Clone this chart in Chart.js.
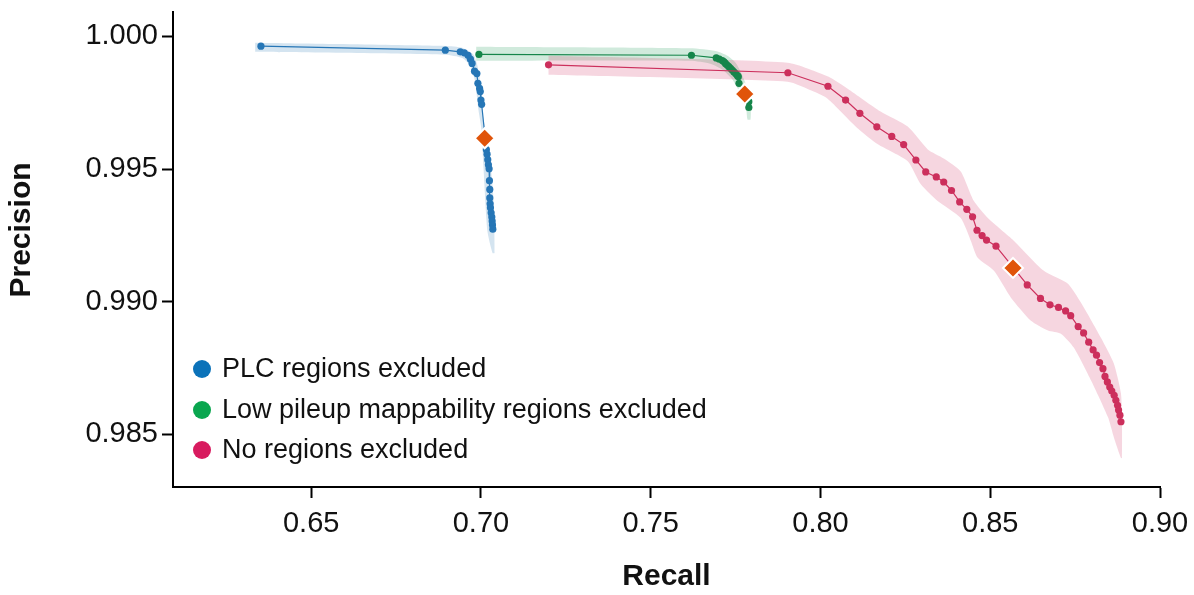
<!DOCTYPE html>
<html>
<head>
<meta charset="utf-8">
<script src="https://cdn.jsdelivr.net/npm/chart.js@4.4.1/dist/chart.umd.min.js"></script>
<style>
  body { margin: 0; background: #fff; }
  #wrap { position: relative; width: 1194px; height: 595px; }
  #legend { position: absolute; left: 193px; top: 352px; font-family: "Liberation Sans", Arial, sans-serif; font-size: 27px; color: #111; }
  #legend div { height: 40.5px; line-height: 32px; white-space: nowrap; }
  #legend span.dot { display: inline-block; width: 18px; height: 18px; border-radius: 50%; margin-right: 11px; vertical-align: -1px; }
</style>
</head>
<body>
<div id="wrap">
  <canvas id="prChart" width="1194" height="595"></canvas>
  <div id="legend"></div>
</div>
<script>
// axis ticks
const xTickValues = [0.65, 0.70, 0.75, 0.80, 0.85, 0.90];
const yTickValues = [0.985, 0.990, 0.995, 1.000];

// series names
const seriesNames = ['PLC regions excluded', 'Low pileup mappability regions excluded', 'No regions excluded'];

// PLC regions excluded
const blueRecall = [0.6352, 0.6895, 0.6939, 0.6951, 0.6962, 0.6969, 0.6974, 0.6981, 0.6988, 0.6991, 0.6996, 0.6998, 0.7000, 0.7002,
  0.7016, 0.7018, 0.7020, 0.7022, 0.7024, 0.7025, 0.7026, 0.7026, 0.7027, 0.7028, 0.7030, 0.7032, 0.7033, 0.7034, 0.7035];
const bluePrecision = [0.99963, 0.99948, 0.99942, 0.99938, 0.99929, 0.99914, 0.99898, 0.99869, 0.99860, 0.99823, 0.99804, 0.99792, 0.99760, 0.99744,
  0.99573, 0.99556, 0.99535, 0.99516, 0.99501, 0.99456, 0.99423, 0.99391, 0.99369, 0.99354, 0.99335, 0.99319, 0.99304, 0.99289, 0.99273];
const blueBandTopRecall = [0.6335, 0.6895, 0.6945, 0.6978, 0.6989, 0.6998, 0.7007, 0.7022, 0.7037, 0.7040];
const blueBandTopPrecision = [0.99976, 0.99964, 0.99957, 0.99931, 0.99893, 0.99829, 0.99690, 0.99593, 0.99390, 0.99183];
const blueBandBottomRecall = [0.6335, 0.6895, 0.6945, 0.6969, 0.6983, 0.6992, 0.7001, 0.7007, 0.7019, 0.7034];
const blueBandBottomPrecision = [0.99942, 0.99931, 0.99919, 0.99889, 0.99829, 0.99728, 0.99653, 0.99518, 0.99266, 0.99183];

// Low pileup mappability regions excluded
const greenRecall = [0.6994, 0.7620, 0.7693, 0.7702, 0.7711, 0.7716, 0.7720, 0.7725, 0.7730, 0.7735, 0.7740, 0.7745, 0.7750, 0.7755, 0.7758, 0.7760, 0.7789, 0.7789];
const greenPrecision = [0.99932, 0.99929, 0.99919, 0.99914, 0.99909, 0.99904, 0.99898, 0.99892, 0.99886, 0.99880, 0.99873, 0.99866, 0.99860, 0.99853, 0.99848, 0.99823, 0.99754, 0.99732];
const greenBandTopRecall = [0.6986, 0.7617, 0.7694, 0.7726, 0.7750, 0.7765, 0.7782, 0.7794, 0.7794];
const greenBandTopPrecision = [0.99961, 0.99955, 0.99944, 0.99927, 0.99901, 0.99867, 0.99814, 0.99754, 0.99687];
const greenBandBottomRecall = [0.6986, 0.7617, 0.7676, 0.7712, 0.7741, 0.7753, 0.7779, 0.7785];
const greenBandBottomPrecision = [0.99908, 0.99908, 0.99897, 0.99874, 0.99837, 0.99811, 0.99754, 0.99687];

// No regions excluded
const redRecall = [0.7199, 0.7904, 0.8022, 0.8074, 0.8116, 0.8166, 0.8210, 0.8245, 0.8281, 0.8310, 0.8341, 0.8363, 0.8386, 0.8410, 0.8431,
  0.8448, 0.8461, 0.8476, 0.8489, 0.8517, 0.8609, 0.8648, 0.8676, 0.8701, 0.8722, 0.8737, 0.8759, 0.8775, 0.8790, 0.8803, 0.8813,
  0.8822, 0.8832, 0.8838, 0.8845, 0.8852, 0.8858, 0.8865, 0.8870, 0.8875, 0.8878, 0.8882, 0.8885];
const redPrecision = [0.99893, 0.99863, 0.99812, 0.99760, 0.99710, 0.99659, 0.99623, 0.99592, 0.99534, 0.99489, 0.99470, 0.99451, 0.99419, 0.99376, 0.99348,
  0.99320, 0.99269, 0.99249, 0.99232, 0.99209, 0.99063, 0.99012, 0.98988, 0.98978, 0.98965, 0.98947, 0.98906, 0.98882, 0.98847, 0.98818, 0.98798,
  0.98770, 0.98747, 0.98718, 0.98697, 0.98678, 0.98663, 0.98647, 0.98628, 0.98609, 0.98591, 0.98572, 0.98547];
const redBandTopRecall = [0.7199, 0.7903, 0.8024, 0.8080, 0.8177, 0.8257, 0.8316, 0.8363, 0.8413, 0.8452, 0.8493, 0.8570, 0.8658, 0.8729,
  0.8776, 0.8826, 0.8864, 0.8885, 0.8888, 0.8888];
const redBandTopPrecision = [0.99927, 0.99901, 0.99848, 0.99803, 0.99717, 0.99660, 0.99574, 0.99540, 0.99491, 0.99379, 0.99315, 0.99229, 0.99116, 0.99067,
  0.98977, 0.98864, 0.98767, 0.98654, 0.98553, 0.98410];
const redBandBottomRecall = [0.7199, 0.7903, 0.7980, 0.8021, 0.8110, 0.8169, 0.8257, 0.8295, 0.8345, 0.8413, 0.8443, 0.8463, 0.8511, 0.8561,
  0.8620, 0.8670, 0.8708, 0.8746, 0.8797, 0.8847, 0.8864, 0.8885];
const redBandBottomPrecision = [0.99855, 0.99829, 0.99792, 0.99765, 0.99653, 0.99593, 0.99529, 0.99443, 0.99379, 0.99315, 0.99229, 0.99165, 0.99116, 0.99015,
  0.98928, 0.98891, 0.98879, 0.98827, 0.98703, 0.98564, 0.98489, 0.98410];

// operating points (diamonds)
const opRecall = [0.7011, 0.7777, 0.8567];
const opPrecision = [0.99616, 0.99783, 0.99127];

const FONT = '"Liberation Sans", Arial, Helvetica, sans-serif';
const lineColors = ['#2676b6', '#15854a', '#cc2f5c'];
const legendColors = ['#0b72b9', '#0aa64f', '#d81b5f'];
const bandColors = ['rgba(38,118,182,0.2)', 'rgba(21,150,80,0.2)', 'rgba(212,50,100,0.2)'];
const yTitleText = 'Precision';

function pairs(xs, ys) {
  return xs.map((x, i) => ({ x: x, y: ys[i] }));
}

function bandShape(topX, topY, botX, botY) {
  return pairs(topX, topY).concat(pairs(botX, botY).reverse());
}

function bandDataset(points, color) {
  return {
    data: points,
    showLine: true,
    fill: 'shape',
    backgroundColor: color,
    borderWidth: 0,
    pointRadius: 0,
    tension: 0.2,
    order: 3
  };
}

function lineDataset(label, points, color) {
  return {
    label: label,
    data: points,
    showLine: true,
    borderColor: color,
    borderWidth: 1.2,
    backgroundColor: color,
    pointBackgroundColor: color,
    pointBorderWidth: 0,
    pointRadius: 3.6,
    tension: 0,
    order: 2
  };
}

const datasets = [
  bandDataset(bandShape(redBandTopRecall, redBandTopPrecision, redBandBottomRecall, redBandBottomPrecision), bandColors[2]),
  bandDataset(bandShape(greenBandTopRecall, greenBandTopPrecision, greenBandBottomRecall, greenBandBottomPrecision), bandColors[1]),
  bandDataset(bandShape(blueBandTopRecall, blueBandTopPrecision, blueBandBottomRecall, blueBandBottomPrecision), bandColors[0]),
  lineDataset(seriesNames[2], pairs(redRecall, redPrecision), lineColors[2]),
  lineDataset(seriesNames[1], pairs(greenRecall, greenPrecision), lineColors[1]),
  lineDataset(seriesNames[0], pairs(blueRecall, bluePrecision), lineColors[0]),
  {
    data: pairs(opRecall, opPrecision),
    showLine: false,
    pointStyle: 'rectRot',
    pointRadius: 10,
    pointBackgroundColor: '#e0540a',
    pointBorderColor: '#ffffff',
    pointBorderWidth: 2,
    order: 1
  }
];

// y axis title, placed a bit above the axis centre like the original
const yTitlePlugin = {
  id: 'yTitle',
  afterDraw(chart) {
    const c = chart.ctx;
    c.save();
    c.translate(22, 230);
    c.rotate(-Math.PI / 2);
    c.font = 'bold 30px ' + FONT;
    c.fillStyle = '#111';
    c.textAlign = 'center';
    c.textBaseline = 'middle';
    c.fillText(yTitleText, 0, 0);
    c.restore();
  }
};

const ctx = document.getElementById('prChart').getContext('2d');
new Chart(ctx, {
  type: 'scatter',
  data: { datasets: datasets },
  plugins: [yTitlePlugin],
  options: {
    responsive: false,
    animation: false,
    devicePixelRatio: 1,
    layout: { padding: { top: 10, right: 34, left: 0, bottom: 0 } },
    plugins: {
      legend: { display: false },
      tooltip: { enabled: false }
    },
    scales: {
      x: {
        type: 'linear',
        min: 0.6093,
        max: 0.90,
        afterBuildTicks: (scale) => { scale.ticks = xTickValues.map(v => ({ value: v })); },
        afterFit: (scale) => {
          scale.height = 108;
          scale.paddingLeft = 0;
          scale.paddingRight = 0;
        },
        border: { display: true, color: '#000', width: 2 },
        grid: { drawOnChartArea: false, drawTicks: true, tickLength: 11, tickWidth: 2, tickColor: '#000' },
        ticks: {
          color: '#111',
          padding: 9,
          font: { family: FONT, size: 29 },
          callback: (v) => v.toFixed(2)
        },
        title: {
          display: true,
          text: 'Recall',
          color: '#111',
          padding: { top: 0, bottom: 0 },
          font: { family: FONT, size: 30, weight: 'bold' }
        }
      },
      y: {
        type: 'linear',
        min: 0.98301,
        max: 1.00092,
        afterBuildTicks: (scale) => { scale.ticks = yTickValues.map(v => ({ value: v })); },
        afterFit: (scale) => {
          scale.width = 173;
          scale.paddingTop = 0;
          scale.paddingBottom = 0;
        },
        border: { display: true, color: '#000', width: 2 },
        grid: { drawOnChartArea: false, drawTicks: true, tickLength: 11, tickWidth: 2, tickColor: '#000' },
        ticks: {
          color: '#111',
          padding: 4,
          font: { family: FONT, size: 29 },
          callback: (v) => v.toFixed(3)
        },
        title: { display: false }
      }
    }
  }
});

// legend inside the plot area
const legendEl = document.getElementById('legend');
seriesNames.forEach((name, i) => {
  const row = document.createElement('div');
  const dot = document.createElement('span');
  dot.className = 'dot';
  dot.style.background = legendColors[i];
  row.appendChild(dot);
  row.appendChild(document.createTextNode(name));
  legendEl.appendChild(row);
});
</script>
</body>
</html>
